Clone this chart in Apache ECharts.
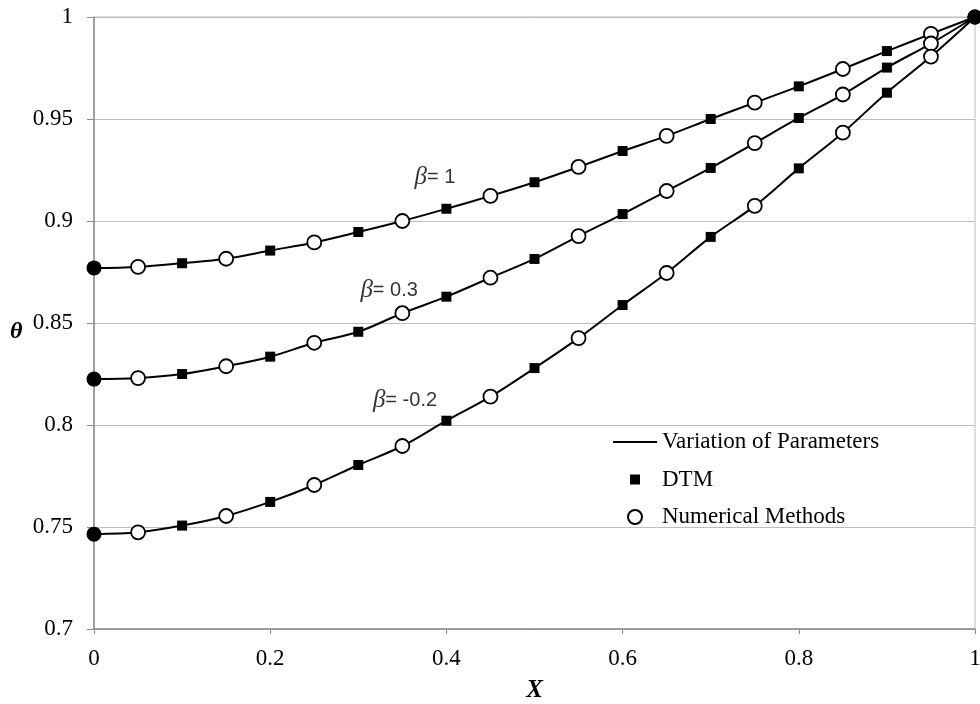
<!DOCTYPE html>
<html>
<head>
<meta charset="utf-8">
<script src="https://cdn.jsdelivr.net/npm/echarts@6/dist/echarts.min.js"></script>
<style>
  html, body { margin: 0; padding: 0; background: #fff; }
  #chart { width: 980px; height: 704px; }
</style>
</head>
<body>
<div id="chart"></div>
<script>
// Dimensionless position along the fin
var xValues = [0, 0.05, 0.1, 0.15, 0.2, 0.25, 0.3, 0.35, 0.4, 0.45, 0.5,
               0.55, 0.6, 0.65, 0.7, 0.75, 0.8, 0.85, 0.9, 0.95, 1];

// Dimensionless temperature profiles for each beta
var thetaBeta1 = [0.877, 0.8775, 0.8793, 0.8815, 0.8855, 0.8895, 0.8946, 0.9, 0.906, 0.9123, 0.919,
                  0.9265, 0.9343, 0.9417, 0.95, 0.958, 0.966, 0.9745, 0.9833, 0.9917, 1];
var thetaBeta03 = [0.8225, 0.823, 0.825, 0.8288, 0.8335, 0.8403, 0.8457, 0.8548, 0.8629, 0.8722, 0.8814,
                   0.8926, 0.9034, 0.9147, 0.926, 0.9382, 0.9505, 0.962, 0.9752, 0.987, 1];
var thetaBetaM02 = [0.7465, 0.7474, 0.7507, 0.7554, 0.7623, 0.7706, 0.7804, 0.7897, 0.8021, 0.8139, 0.8279,
                    0.8426, 0.8588, 0.8745, 0.8922, 0.9074, 0.9258, 0.9433, 0.9629, 0.9806, 1];

var profiles = [thetaBeta1, thetaBeta03, thetaBetaM02];
var curveLabels = ['1', '0.3', '-0.2'];
var labelAt = [[0.387, 0.9212], [0.335, 0.8658], [0.353, 0.8119]];

var yTicks = [0.7, 0.75, 0.8, 0.85, 0.9, 0.95, 1];
var xTicks = [0, 0.2, 0.4, 0.6, 0.8, 1];

var SERIF = '"Liberation Serif", "DejaVu Serif", serif';
var SANS = '"Liberation Sans", "DejaVu Sans", sans-serif';

function pairs(ys, pick) {
  var out = [];
  for (var i = 0; i < xValues.length; i++) {
    if (pick(i)) out.push([xValues[i], ys[i]]);
  }
  return out;
}

var series = [];
profiles.forEach(function (ys) {
  series.push({
    name: 'Variation of Parameters',
    type: 'line',
    data: pairs(ys, function () { return true; }),
    smooth: 0.35,
    showSymbol: false,
    symbol: 'none',
    lineStyle: { color: '#000', width: 2 },
    z: 2,
    silent: true
  });
  series.push({
    name: 'DTM',
    type: 'scatter',
    data: pairs(ys, function (i) { return i % 2 === 0 && i > 0 && i < xValues.length - 1; }),
    symbol: 'rect',
    symbolSize: 10,
    itemStyle: { color: '#000', opacity: 1 },
    z: 4
  });
  series.push({
    name: 'Numerical Methods',
    type: 'scatter',
    data: pairs(ys, function (i) { return i % 2 === 1; }),
    symbol: 'circle',
    symbolSize: 14,
    itemStyle: { color: '#fff', borderColor: '#000', borderWidth: 1.8, opacity: 1 },
    z: 5
  });
  // boundary values where both methods coincide
  series.push({
    name: 'ends',
    type: 'scatter',
    data: pairs(ys, function (i) { return i === 0 || i === xValues.length - 1; }),
    symbol: 'circle',
    symbolSize: 15,
    itemStyle: { color: '#000', opacity: 1 },
    z: 6
  });
});

// beta annotations
series.push({
  name: 'labels',
  type: 'scatter',
  symbolSize: 0,
  silent: true,
  data: labelAt.map(function (p, k) { return { value: p, tag: curveLabels[k] }; }),
  label: {
    show: true,
    position: 'inside',
    formatter: function (p) { return '{b|β}{t|= ' + p.data.tag + '}'; },
    rich: {
      b: { fontFamily: SERIF, fontStyle: 'italic', fontSize: 25, color: '#000' },
      t: { fontFamily: SANS, fontSize: 20, color: '#000' }
    }
  },
  z: 7
});

var chart = echarts.init(document.getElementById('chart'), null, { renderer: 'canvas' });
chart.setOption({
  animation: false,
  backgroundColor: '#fff',
  grid: {
    left: 94, right: 5, top: 17, bottom: 75,
    containLabel: false,
    outerBoundsMode: 'none',
    show: true, borderColor: '#bdbdbd', borderWidth: 1
  },
  legend: {
    left: 608, top: 425,
    orient: 'vertical',
    itemGap: 13.5,
    itemWidth: 44,
    itemHeight: 14,
    data: [
      { name: 'Variation of Parameters', icon: 'path://M0,6 L44,6 L44,8 L0,8 Z', itemStyle: { color: '#000' } },
      { name: 'DTM', icon: 'path://M0,0 L0.01,0 L0,0.01 Z M44,14 L43.99,14 L44,13.99 Z M17,2 L27,2 L27,12 L17,12 Z', itemStyle: { color: '#000' } },
      { name: 'Numerical Methods' }
    ],
    textStyle: { fontFamily: SERIF, fontSize: 23, lineHeight: 24, color: '#000' },
    selectedMode: false
  },
  graphic: [{
    type: 'text',
    left: 10, top: 320,
    style: { text: 'θ', font: 'italic bold 24px "Liberation Serif", "DejaVu Serif", serif', fill: '#000' }
  }],
  xAxis: {
    type: 'value',
    min: 0, max: 1, interval: 0.2,
    name: 'X',
    nameLocation: 'middle',
    nameGap: 49,
    nameTextStyle: { fontFamily: SERIF, fontStyle: 'italic', fontWeight: 'bold', fontSize: 25, color: '#000' },
    axisLine: { show: true, lineStyle: { color: '#8c8c8c', width: 1.5 } },
    axisTick: { show: true, length: 5, inside: false, lineStyle: { color: '#8c8c8c' } },
    splitLine: { show: false },
    axisLabel: {
      margin: 18,
      fontFamily: SERIF, fontSize: 23, color: '#000',
      formatter: function (v) { var r = +v.toFixed(2); return xTicks.indexOf(r) >= 0 ? String(r) : ''; }
    }
  },
  yAxis: {
    type: 'value',
    min: 0.7, max: 1, interval: 0.05,
    axisLine: { show: true, lineStyle: { color: '#8c8c8c', width: 1.5 } },
    axisTick: { show: true, length: 7, lineStyle: { color: '#8c8c8c' } },
    splitLine: { show: true, lineStyle: { color: '#bdbdbd', width: 1.2 } },
    axisLabel: {
      margin: 21,
      fontFamily: SERIF, fontSize: 23, color: '#000',
      formatter: function (v) { var r = +v.toFixed(2); return yTicks.indexOf(r) >= 0 ? String(r) : ''; }
    }
  },
  series: series
});
</script>
</body>
</html>
